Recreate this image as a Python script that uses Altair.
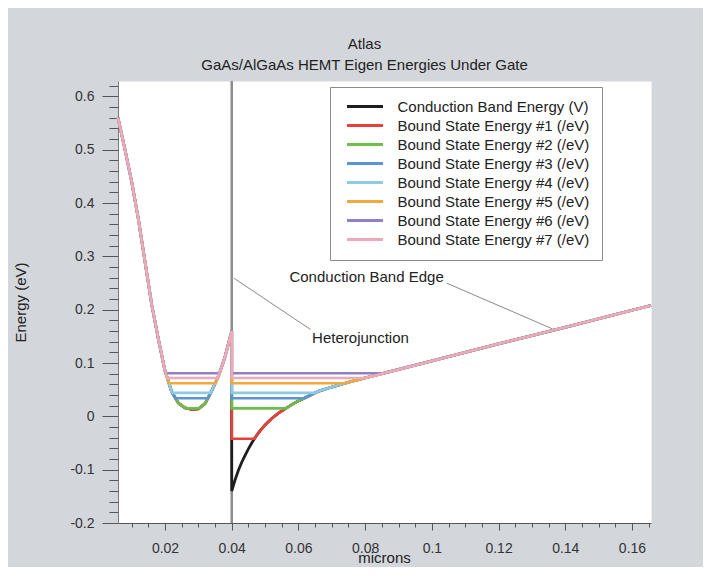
import altair as alt
import pandas as pd

# ---- data ----
# conduction band edge (eV) vs depth (microns), left of the heterojunction
ec_left_x = [0.0059, 0.008, 0.010, 0.012, 0.014, 0.016, 0.018, 0.020, 0.022, 0.024,
             0.026, 0.028, 0.030, 0.032, 0.034, 0.036, 0.038, 0.040]
ec_left_y = [0.56, 0.50, 0.44, 0.37, 0.29, 0.21, 0.145, 0.085, 0.046, 0.025,
             0.016, 0.013, 0.014, 0.024, 0.048, 0.075, 0.112, 0.160]
# right of the heterojunction
ec_right_x = [0.040, 0.041, 0.042, 0.043, 0.044, 0.045, 0.046, 0.047, 0.048, 0.050,
              0.052, 0.054, 0.056, 0.058, 0.060, 0.062, 0.064, 0.066, 0.070, 0.075,
              0.080, 0.0856, 0.090, 0.100, 0.120, 0.140, 0.160, 0.1657]
ec_right_y = [-0.140, -0.119, -0.101, -0.086, -0.073, -0.061, -0.050, -0.040, -0.031, -0.016,
              -0.004, 0.006, 0.014, 0.022, 0.029, 0.035, 0.041, 0.047, 0.055, 0.064,
              0.072, 0.081, 0.088, 0.104, 0.136, 0.167, 0.199, 0.208]

series_names = [
    "Conduction Band Energy (V)",
    "Bound State Energy #1 (/eV)",
    "Bound State Energy #2 (/eV)",
    "Bound State Energy #3 (/eV)",
    "Bound State Energy #4 (/eV)",
    "Bound State Energy #5 (/eV)",
    "Bound State Energy #6 (/eV)",
    "Bound State Energy #7 (/eV)",
]
series_colors = ["#1e1e1e", "#e8413c", "#6cc04a", "#5a93d8", "#8ecae6",
                 "#f2a93b", "#9180c8", "#eeaabb"]
# bound state eigen energies (eV)
state_energies = [-0.042, 0.015, 0.034, 0.044, 0.062, 0.081, 0.072]

heterojunction_x = [0.04]

ann_text = ["Conduction Band Edge", "Heterojunction"]
ann_x = [0.0573, 0.0641]
ann_y = [0.262, 0.147]
lead_x1 = [0.1044, 0.0407]
lead_y1 = [0.250, 0.259]
lead_x2 = [0.1362, 0.0636]
lead_y2 = [0.164, 0.163]

x_major = [0.02, 0.04, 0.06, 0.08, 0.10, 0.12, 0.14, 0.16]
y_major = [-0.2, -0.1, 0.0, 0.1, 0.2, 0.3, 0.4, 0.5, 0.6]

# ---- build tables ----
ec_x = ec_left_x + ec_right_x
ec_y = ec_left_y + ec_right_y

rows = []
for i, (xv, yv) in enumerate(zip(ec_x, ec_y)):
    rows.append({"series": series_names[0], "x": xv, "y": yv, "i": i})


def clipped(level):
    """bound state drawn as max(band edge, eigen energy)"""
    pts = []
    for k in range(len(ec_x)):
        if k > 0:
            x0, y0, x1, y1 = ec_x[k - 1], ec_y[k - 1], ec_x[k], ec_y[k]
            if (y0 - level) * (y1 - level) < 0:
                xc = x0 + (level - y0) * (x1 - x0) / (y1 - y0)
                pts.append((xc, level))
        pts.append((ec_x[k], max(ec_y[k], level)))
    return pts


for name, e in zip(series_names[1:], state_energies):
    for i, (xv, yv) in enumerate(clipped(e)):
        rows.append({"series": name, "x": xv, "y": yv, "i": i})

df = pd.DataFrame(rows)
ann_df = pd.DataFrame({"t": ann_text, "x": ann_x, "y": ann_y})
lead_df = pd.DataFrame({"x": lead_x1, "y": lead_y1, "x2": lead_x2, "y2": lead_y2})
hj_df = pd.DataFrame({"x": heterojunction_x})

FONT = "Liberation Sans"

x_vals = [round(0.005 * k, 3) for k in range(2, 34)]
y_vals = [round(-0.2 + 0.02 * k, 2) for k in range(0, 42)]
x_major_test = "abs(datum.value*50 - round(datum.value*50)) < 0.001"
y_major_test = "abs(datum.value*10 - round(datum.value*10)) < 0.001"

xscale = alt.Scale(domain=[0.0059, 0.1657], nice=False, zero=False)
yscale = alt.Scale(domain=[-0.2, 0.629], nice=False, zero=False)

xaxis = alt.Axis(
    values=x_vals, title="microns", format="~g",
    labelExpr=f"{x_major_test} ? datum.label : ''",
    tickSize={"condition": {"test": x_major_test, "value": 7}, "value": 4},
    labelPadding=11, labelFontSize=14, labelFont=FONT, labelColor="#333",
    tickColor="#555", domainColor="#555", grid=False,
    labelOverlap=False, labelFlush=False,
    titleX=266, titleY=34, titleBaseline="middle", titleAlign="center",
    titleFont=FONT, titleFontSize=15, titleFontWeight="normal", titleColor="#222",
)
yaxis = alt.Axis(
    values=y_vals, title="Energy (eV)", format="~g",
    labelExpr=f"{y_major_test} ? replace(datum.label, '\u2212', '-') : ''",
    tickSize={"condition": {"test": y_major_test, "value": 16}, "value": 9},
    labelPadding=8, labelFontSize=14, labelFont=FONT, labelColor="#333",
    tickColor="#555", domainColor="#777", grid=False,
    labelOverlap=False, labelFlush=False,
    titleX=-98, titleY=221, titleBaseline="middle", titleAlign="center", titleAngle=-90,
    titleFont=FONT, titleFontSize=15, titleFontWeight="normal", titleColor="#222",
)

color = alt.Color(
    "series:N",
    scale=alt.Scale(domain=series_names, range=series_colors),
    legend=alt.Legend(
        title=None, orient="none", legendX=212, legendY=6,
        symbolType="M-3,0H3", symbolSize=144, symbolStrokeWidth=3,
        symbolOffset=15.5, labelOffset=25, padding=12, rowPadding=3,
        fillColor="white", strokeColor="#8a8a8a",
        labelFont=FONT, labelFontSize=15, labelColor="#222", labelLimit=320,
    ),
)

X = alt.X("x:Q", scale=xscale, axis=xaxis)
Y = alt.Y("y:Q", scale=yscale, axis=yaxis)

hj = alt.Chart(hj_df).mark_rule(color="#8c8c8c", strokeWidth=2.5).encode(x=X)

lines = []
for k, name in enumerate(series_names):
    lines.append(
        alt.Chart(df).transform_filter(alt.datum.series == name)
        .mark_line(strokeWidth=2.8 if k == 0 else 2.6)
        .encode(x=X, y=Y, color=color, order=alt.Order("i:Q"))
    )

leads = alt.Chart(lead_df).mark_rule(color="#8a8a8a", strokeWidth=1).encode(
    x=X, y=Y, x2="x2:Q", y2="y2:Q")
texts = alt.Chart(ann_df).mark_text(
    align="left", baseline="middle", font=FONT, fontSize=15, color="#222"
).encode(x=X, y=Y, text="t:N")

chart = alt.layer(hj, *lines, leads, texts).properties(
    width=533, height=442,
    padding={"left": 110, "top": 73, "right": 52, "bottom": 44},
    autosize=alt.AutoSizeParams(type="none"),
    background="#d3d7db",
    title=alt.TitleParams(
        text="Atlas", subtitle="GaAs/AlGaAs HEMT Eigen Energies Under Gate",
        font=FONT, fontSize=15, fontWeight="normal", color="#222",
        subtitleFont=FONT, subtitleFontSize=15, subtitleColor="#222",
        anchor="middle", dx=-20, offset=6, subtitlePadding=6,
    ),
).configure_view(fill="white", stroke="transparent")

chart.save("out.html", embed_options={"renderer": "svg", "actions": False})
